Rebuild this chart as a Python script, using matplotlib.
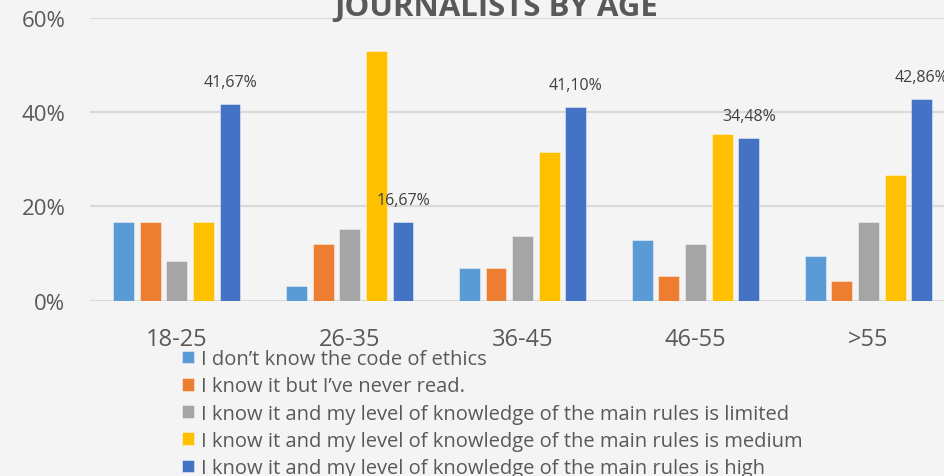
import matplotlib.pyplot as plt
import numpy as np

plt.rcParams['font.family'] = ['Open Sans', 'DejaVu Sans']

ages = ['18-25', '26-35', '36-45', '46-55', '>55']
series_names = [
    'I don’t know the code of ethics',
    'I know it but I’ve never read.',
    'I know it and my level of knowledge of the main rules is limited',
    'I know it and my level of knowledge of the main rules is medium',
    'I know it and my level of knowledge of the main rules is high',
]
dont_know = [16.67, 3.03, 6.85, 12.9, 9.52]
never_read = [16.67, 12.12, 6.85, 5.17, 4.2]
limited = [8.33, 15.15, 13.70, 12.07, 16.67]
medium = [16.67, 53.03, 31.51, 35.3, 26.7]
high = [41.67, 16.67, 41.10, 34.48, 42.86]

colors = ['#5B9BD5', '#ED7D31', '#A5A5A5', '#FFC000', '#4472C4']
bg = '#f4f4f4'

fig = plt.figure(figsize=(9.44, 4.77), dpi=100, facecolor=bg)
ax = fig.add_axes([90.3 / 944, 1 - 301.7 / 477, (955 - 90.3) / 944, (301.7 - 19) / 477])
ax.set_facecolor(bg)

x = np.arange(len(ages))
step = 0.154
width = 0.121
all_series = [dont_know, never_read, limited, medium, high]
bars = []
for i, vals in enumerate(all_series):
    b = ax.bar(x + (i - 2) * step, vals, width=width, color=colors[i],
               label=series_names[i], edgecolor=(1, 1, 1, 0.5), linewidth=0.6, zorder=3)
    bars.append(b)

ax.bar_label(bars[-1], labels=[f'{v:.2f}%'.replace('.', ',') for v in high],
             padding=10, fontsize=11.5, color='#404040')

ax.set_xlim(-0.5, len(ages) - 0.5)
ax.set_ylim(0, 60)
ax.set_yticks([0, 20, 40, 60])
ax.set_yticklabels(['0%', '20%', '40%', '60%'])
ax.set_xticks(x)
ax.set_xticklabels(ages)
ax.tick_params(axis='both', length=0, labelsize=16, colors='#595959')
ax.tick_params(axis='x', labelsize=17, pad=19)
ax.tick_params(axis='y', pad=18)
ax.grid(axis='y', color='#d9d9d9', linewidth=1.5, zorder=0)
for s in ax.spines.values():
    s.set_visible(False)

# title is partly cut off at the top, as in the source image
fig.text(496 / 944, 1 - 15.5 / 477, 'JOURNALISTS BY AGE', ha='center', va='baseline',
         fontsize=22.5, fontweight='bold', color='#595959')

fig.legend(loc='upper left', bbox_to_anchor=(172 / 944, 1 - 340 / 477), frameon=False,
           fontsize=14.5, labelcolor='#595959', handlelength=0.6, handleheight=0.6,
           handletextpad=0.35, labelspacing=0.36, borderpad=0)

fig.savefig('out.png', dpi=100, facecolor=bg)
